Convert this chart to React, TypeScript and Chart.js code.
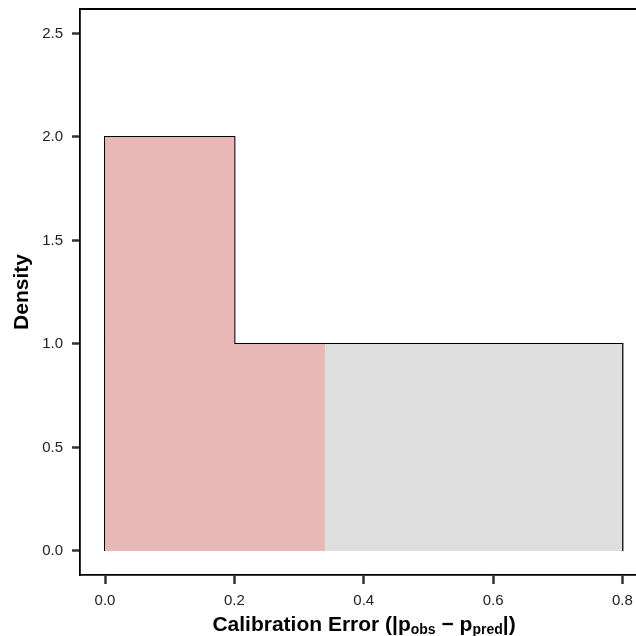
import React, { useEffect, useRef } from "react";
import { Chart, registerables } from "chart.js";
Chart.register(...registerables);

const binEdges = [0, 0.2, 0.8];
const densities = [2, 1];
const shadeCut = 0.34;
const xTicks = [0, 0.2, 0.4, 0.6, 0.8];
const yTicks = [0, 0.5, 1, 1.5, 2, 2.5];
const xRange = [-0.0387, 0.821];
const yRange = [-0.116, 2.618];
const xTitleParts = [
  { t: "Calibration Error (|p", sub: false },
  { t: "obs", sub: true },
  { t: " \u2212 p", sub: false },
  { t: "pred", sub: true },
  { t: "|)", sub: false },
];
const yTitle = "Density";

function stepPoints(lo: number, hi: number) {
  const pts: { x: number; y: number }[] = [];
  for (let i = 0; i < densities.length; i++) {
    const a = Math.max(binEdges[i], lo);
    const b = Math.min(binEdges[i + 1], hi);
    if (b <= a) continue;
    pts.push({ x: a, y: densities[i] });
    pts.push({ x: b, y: densities[i] });
  }
  return pts;
}

const FONT = '"Liberation Sans", Arial, Helvetica, sans-serif';

export default function App() {
  const ref = useRef<HTMLCanvasElement>(null);
  useEffect(() => {
    const outline = [
      { x: binEdges[0], y: 0 },
      ...stepPoints(binEdges[0], binEdges[binEdges.length - 1]),
      { x: binEdges[binEdges.length - 1], y: 0 },
    ];
    const red = stepPoints(binEdges[0], shadeCut);
    const gray = stepPoints(shadeCut, binEdges[binEdges.length - 1]);
    const innerLines: any[] = [];
    for (let i = 1; i < binEdges.length - 1; i++) {
      if (binEdges[i] < shadeCut) {
        innerLines.push({
          type: "line",
          data: [
            { x: binEdges[i], y: 0 },
            { x: binEdges[i], y: Math.min(densities[i - 1], densities[i]) },
          ],
          borderColor: "rgba(205,150,150,0.5)",
          borderWidth: 1,
          pointRadius: 0,
          fill: false,
        });
      }
    }
    const decor = {
      id: "decor",
      afterDraw(chart: any) {
        const { ctx, chartArea } = chart;
        const { left, right, top, bottom } = chartArea;
        ctx.save();
        ctx.strokeStyle = "#000";
        ctx.lineWidth = 1.8;
        ctx.beginPath();
        ctx.moveTo(left, top);
        ctx.lineTo(chart.width, top);
        ctx.stroke();
        ctx.fillStyle = "#000";
        // y title
        ctx.save();
        ctx.font = `bold 21px ${FONT}`;
        ctx.translate(22, (top + bottom) / 2);
        ctx.rotate(-Math.PI / 2);
        ctx.textAlign = "center";
        ctx.textBaseline = "middle";
        ctx.fillText(yTitle, 0, 0);
        ctx.restore();
        // x title
        ctx.textBaseline = "alphabetic";
        ctx.textAlign = "left";
        const big = `bold 21px ${FONT}`;
        const small = `bold 14px ${FONT}`;
        let total = 0;
        for (const p of xTitleParts) {
          ctx.font = p.sub ? small : big;
          total += ctx.measureText(p.t).width;
        }
        let x = (left + right) / 2 + 6 - total / 2;
        const base = 631;
        for (const p of xTitleParts) {
          ctx.font = p.sub ? small : big;
          ctx.fillText(p.t, x, p.sub ? base + 3 : base);
          x += ctx.measureText(p.t).width;
        }
        ctx.restore();
      },
    };
    const chart = new Chart(ref.current!, {
      type: "line",
      data: {
        datasets: [
          {
            data: red,
            backgroundColor: "#E8B8B7",
            borderWidth: 0,
            borderColor: "rgba(0,0,0,0)",
            pointRadius: 0,
            fill: "origin",
          },
          {
            data: gray,
            backgroundColor: "#DEDEDE",
            borderWidth: 0,
            borderColor: "rgba(0,0,0,0)",
            pointRadius: 0,
            fill: "origin",
          },
          ...innerLines,
          {
            data: outline,
            borderColor: "#000",
            borderWidth: 2,
            pointRadius: 0,
            fill: false,
          },
        ],
      },
      options: {
        animation: false,
        responsive: false,
        maintainAspectRatio: false,
        layout: { padding: { top: 9, right: 0, left: 0, bottom: 0 } },
        plugins: { legend: { display: false }, tooltip: { enabled: false } },
        elements: { line: { tension: 0 } },
        scales: {
          x: {
            type: "linear",
            min: xRange[0],
            max: xRange[1],
            afterBuildTicks: (s: any) => {
              s.ticks = xTicks.map((v) => ({ value: v }));
            },
            afterFit: (s: any) => {
              s.height = 61;
              s.paddingLeft = 0;
              s.paddingRight = 0;
            },
            ticks: {
              callback: (v: any) => Number(v).toFixed(1),
              color: "#222",
              font: { family: FONT, size: 15 },
              padding: 8,
              maxRotation: 0,
              autoSkip: false,
            },
            grid: {
              drawOnChartArea: false,
              drawTicks: true,
              tickLength: 9,
              tickWidth: 2.5,
              tickColor: "#333",
            },
            border: { display: true, color: "#000", width: 1.8 },
          },
          y: {
            type: "linear",
            min: yRange[0],
            max: yRange[1],
            afterBuildTicks: (s: any) => {
              s.ticks = yTicks.map((v) => ({ value: v }));
            },
            afterFit: (s: any) => {
              s.width = 80;
              s.paddingTop = 0;
              s.paddingBottom = 0;
            },
            ticks: {
              callback: (v: any) => Number(v).toFixed(1),
              color: "#222",
              font: { family: FONT, size: 15 },
              padding: 9,
              autoSkip: false,
            },
            grid: {
              drawOnChartArea: false,
              drawTicks: true,
              tickLength: 8,
              tickWidth: 2.5,
              tickColor: "#333",
            },
            border: { display: true, color: "#000", width: 1.8 },
          },
        },
      },
      plugins: [decor],
    } as any);
    return () => chart.destroy();
  }, []);
  return (
    <div style={{ position: "fixed", left: 0, top: 0, width: 636, height: 636, background: "#fff" }}>
      <canvas ref={ref} width={636} height={636} style={{ width: 636, height: 636, display: "block" }} />
    </div>
  );
}
